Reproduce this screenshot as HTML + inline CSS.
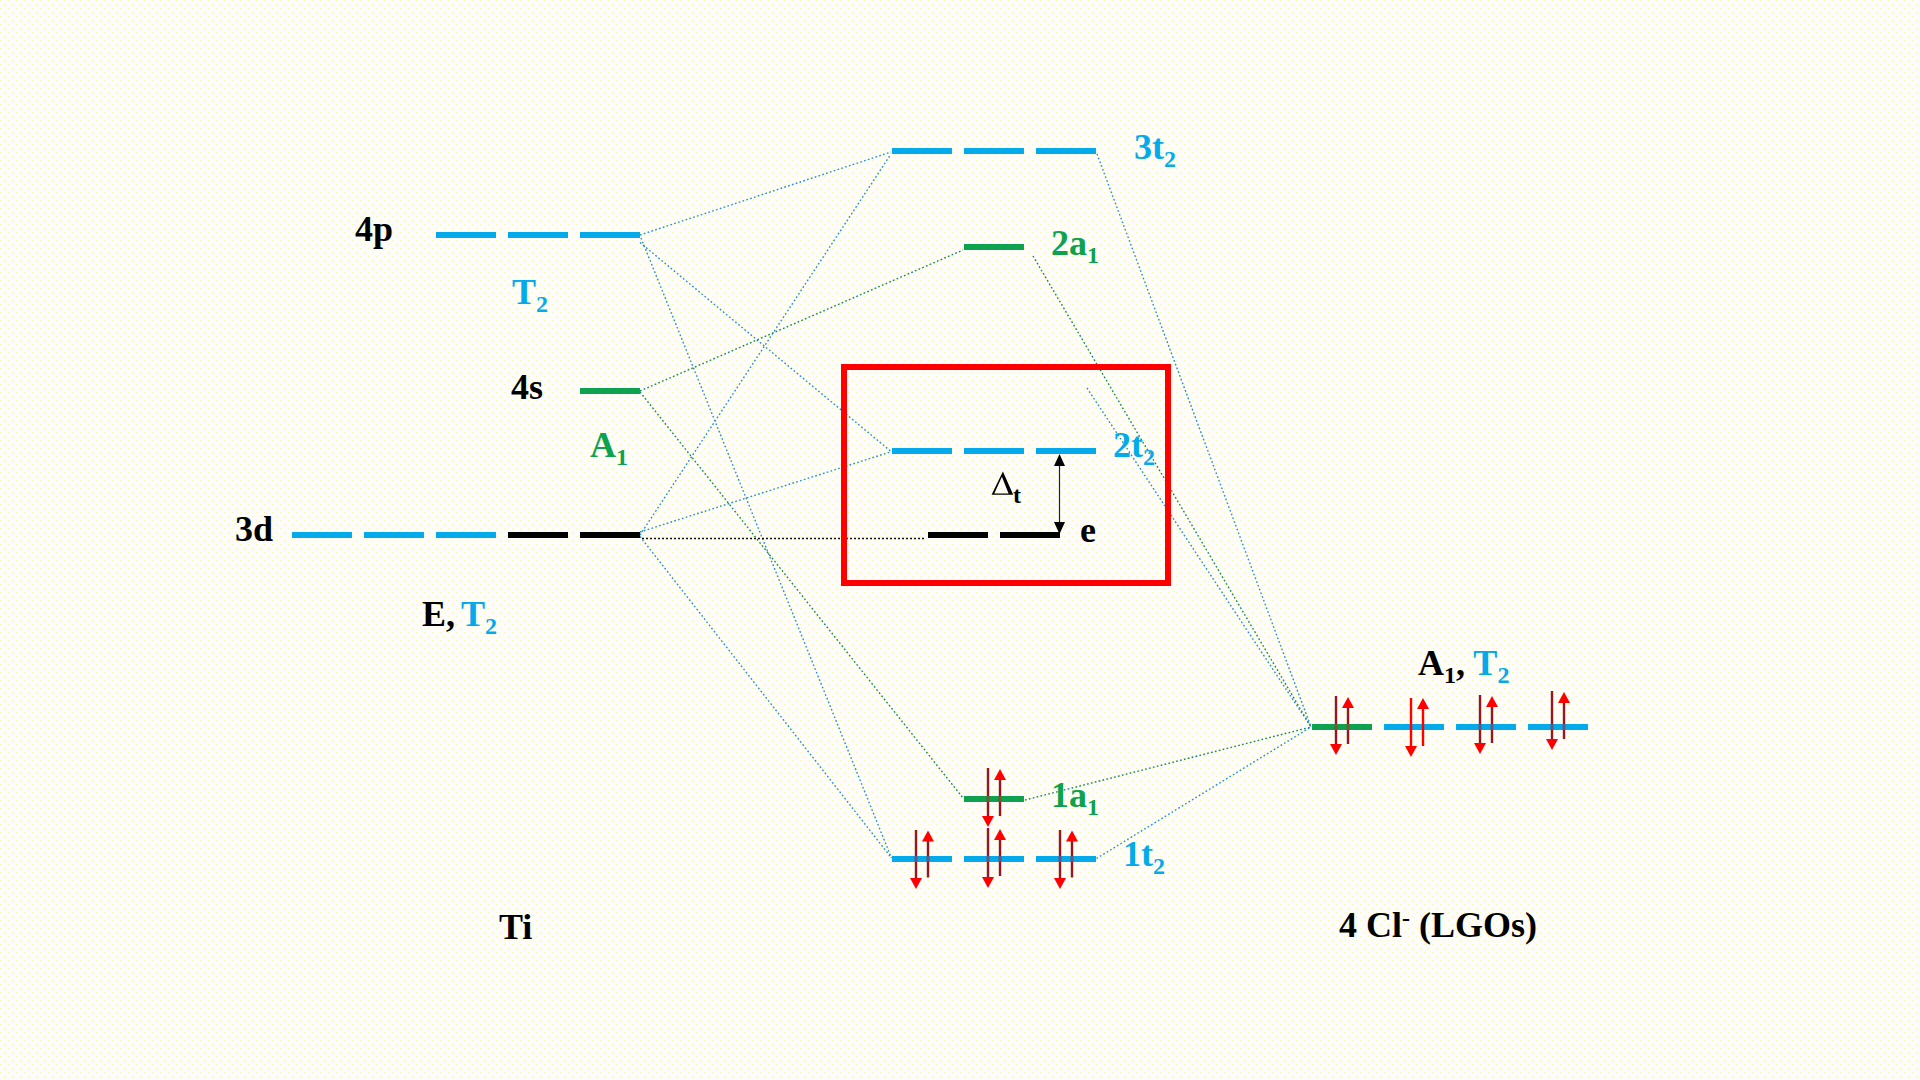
<!DOCTYPE html>
<html><head><meta charset="utf-8"><title>MO diagram TiCl4</title>
<style>
html,body{margin:0;padding:0;width:1920px;height:1080px;overflow:hidden;background:#fcfcfe;}
svg{display:block;font-family:"Liberation Serif",serif;}
</style></head><body>
<svg width="1920" height="1080" viewBox="0 0 1920 1080">
<defs><pattern id="bg" width="8" height="8" patternUnits="userSpaceOnUse">
<rect width="8" height="8" fill="#fcfcfe"/><rect x="0" y="0" width="1" height="1" fill="#fbfba6"/><rect x="4" y="4" width="1" height="1" fill="#fbfba6"/></pattern></defs>
<rect width="1920" height="1080" fill="url(#bg)"/>
<line x1="640" y1="235" x2="891" y2="152" stroke="#2a90c0" stroke-width="1.4" stroke-dasharray="1.7 2.3"/>
<line x1="640" y1="242.5" x2="891.25" y2="451.7" stroke="#2a90c0" stroke-width="1.4" stroke-dasharray="1.7 2.3"/>
<line x1="641" y1="238" x2="891.5" y2="858" stroke="#2a90c0" stroke-width="1.4" stroke-dasharray="1.7 2.3"/>
<line x1="640" y1="535" x2="891" y2="154" stroke="#2a90c0" stroke-width="1.4" stroke-dasharray="1.7 2.3"/>
<line x1="640" y1="532" x2="891.25" y2="451.7" stroke="#2a90c0" stroke-width="1.4" stroke-dasharray="1.7 2.3"/>
<line x1="640" y1="536.5" x2="891.5" y2="858" stroke="#2a90c0" stroke-width="1.4" stroke-dasharray="1.7 2.3"/>
<line x1="642" y1="538.5" x2="926" y2="538.5" stroke="#101010" stroke-width="1.5" stroke-dasharray="2 2"/>
<line x1="640" y1="391" x2="963" y2="250" stroke="#1a8a50" stroke-width="1.4" stroke-dasharray="1.7 2.3"/>
<line x1="640" y1="392" x2="963" y2="798" stroke="#1a8a50" stroke-width="1.4" stroke-dasharray="1.7 2.3"/>
<line x1="1097" y1="154" x2="1311" y2="727" stroke="#2a90c0" stroke-width="1.4" stroke-dasharray="1.7 2.3"/>
<line x1="1033" y1="256" x2="1311" y2="727" stroke="#1a8a50" stroke-width="1.4" stroke-dasharray="1.7 2.3"/>
<line x1="1087" y1="388" x2="1311" y2="727" stroke="#2a90c0" stroke-width="1.4" stroke-dasharray="1.7 2.3"/>
<line x1="1025" y1="800" x2="1311" y2="727" stroke="#1a8a50" stroke-width="1.4" stroke-dasharray="1.7 2.3"/>
<line x1="1096.5" y1="858.5" x2="1311" y2="727" stroke="#2a90c0" stroke-width="1.4" stroke-dasharray="1.7 2.3"/>
<rect x="436" y="232" width="60" height="6" fill="#04aaea"/>
<rect x="508" y="232" width="60" height="6" fill="#04aaea"/>
<rect x="580" y="232" width="60" height="6" fill="#04aaea"/>
<rect x="580" y="388" width="60" height="6" fill="#0ea24e"/>
<rect x="292" y="532" width="60" height="6" fill="#04aaea"/>
<rect x="364" y="532" width="60" height="6" fill="#04aaea"/>
<rect x="436" y="532" width="60" height="6" fill="#04aaea"/>
<rect x="508" y="532" width="60" height="6" fill="#000"/>
<rect x="580" y="532" width="60" height="6" fill="#000"/>
<rect x="892" y="148" width="60" height="6" fill="#04aaea"/>
<rect x="964" y="148" width="60" height="6" fill="#04aaea"/>
<rect x="1036" y="148" width="60" height="6" fill="#04aaea"/>
<rect x="964" y="244" width="60" height="6" fill="#0ea24e"/>
<rect x="892" y="448" width="60" height="6" fill="#04aaea"/>
<rect x="964" y="448" width="60" height="6" fill="#04aaea"/>
<rect x="1036" y="448" width="60" height="6" fill="#04aaea"/>
<rect x="928" y="532" width="60" height="6" fill="#000"/>
<rect x="1000" y="532" width="60" height="6" fill="#000"/>
<rect x="964" y="796" width="60" height="6" fill="#0ea24e"/>
<rect x="892" y="856" width="60" height="6" fill="#04aaea"/>
<rect x="964" y="856" width="60" height="6" fill="#04aaea"/>
<rect x="1036" y="856" width="60" height="6" fill="#04aaea"/>
<rect x="1312" y="724" width="60" height="6" fill="#0ea24e"/>
<rect x="1384" y="724" width="60" height="6" fill="#04aaea"/>
<rect x="1456" y="724" width="60" height="6" fill="#04aaea"/>
<rect x="1528" y="724" width="60" height="6" fill="#04aaea"/>
<rect x="844" y="367" width="324" height="216" fill="none" stroke="#ff0000" stroke-width="6"/>
<line x1="1059.5" y1="464" x2="1059.5" y2="524" stroke="#222" stroke-width="1.2"/>
<polygon points="1054,466 1065,466 1059.5,454" fill="#000"/>
<polygon points="1054,522 1065,522 1059.5,534" fill="#000"/>
<line x1="988" y1="768" x2="988" y2="817" stroke="#981818" stroke-width="2.4"/>
<polygon points="982,816 994,816 988,827" fill="#ff0000"/>
<line x1="1000" y1="779" x2="1000" y2="816" stroke="#981818" stroke-width="2.4"/>
<polygon points="994,780 1006,780 1000,769" fill="#ff0000"/>
<rect x="986.8" y="796" width="2.4" height="6" fill="#7a5a34"/>
<rect x="998.8" y="796" width="2.4" height="6" fill="#7a5a34"/>
<line x1="916" y1="830" x2="916" y2="879" stroke="#981818" stroke-width="2.4"/>
<polygon points="910,878 922,878 916,889" fill="#ff0000"/>
<line x1="928" y1="840.5" x2="928" y2="877.5" stroke="#981818" stroke-width="2.4"/>
<polygon points="922,841.5 934,841.5 928,830.5" fill="#ff0000"/>
<rect x="914.8" y="856" width="2.4" height="6" fill="#6c5480"/>
<rect x="926.8" y="856" width="2.4" height="6" fill="#6c5480"/>
<line x1="988" y1="828" x2="988" y2="878" stroke="#981818" stroke-width="2.4"/>
<polygon points="982,877 994,877 988,888" fill="#ff0000"/>
<line x1="1000" y1="839" x2="1000" y2="876" stroke="#981818" stroke-width="2.4"/>
<polygon points="994,840 1006,840 1000,829" fill="#ff0000"/>
<rect x="986.8" y="856" width="2.4" height="6" fill="#6c5480"/>
<rect x="998.8" y="856" width="2.4" height="6" fill="#6c5480"/>
<line x1="1060" y1="830" x2="1060" y2="879" stroke="#981818" stroke-width="2.4"/>
<polygon points="1054,878 1066,878 1060,889" fill="#ff0000"/>
<line x1="1072" y1="840.5" x2="1072" y2="877.5" stroke="#981818" stroke-width="2.4"/>
<polygon points="1066,841.5 1078,841.5 1072,830.5" fill="#ff0000"/>
<rect x="1058.8" y="856" width="2.4" height="6" fill="#6c5480"/>
<rect x="1070.8" y="856" width="2.4" height="6" fill="#6c5480"/>
<line x1="1336" y1="696" x2="1336" y2="745" stroke="#981818" stroke-width="2.4"/>
<polygon points="1330,744 1342,744 1336,755" fill="#ff0000"/>
<line x1="1348" y1="707" x2="1348" y2="744" stroke="#981818" stroke-width="2.4"/>
<polygon points="1342,708 1354,708 1348,697" fill="#ff0000"/>
<rect x="1334.8" y="724" width="2.4" height="6" fill="#7a5a34"/>
<rect x="1346.8" y="724" width="2.4" height="6" fill="#7a5a34"/>
<line x1="1411" y1="698" x2="1411" y2="747" stroke="#ff0000" stroke-width="2.4"/>
<polygon points="1405,746 1417,746 1411,757" fill="#ff0000"/>
<line x1="1423" y1="708" x2="1423" y2="746" stroke="#ff0000" stroke-width="2.4"/>
<polygon points="1417,709 1429,709 1423,698" fill="#ff0000"/>
<line x1="1480" y1="695" x2="1480" y2="744" stroke="#981818" stroke-width="2.4"/>
<polygon points="1474,743 1486,743 1480,754" fill="#ff0000"/>
<line x1="1492" y1="706" x2="1492" y2="743" stroke="#981818" stroke-width="2.4"/>
<polygon points="1486,707 1498,707 1492,696" fill="#ff0000"/>
<rect x="1478.8" y="724" width="2.4" height="6" fill="#6c5480"/>
<rect x="1490.8" y="724" width="2.4" height="6" fill="#6c5480"/>
<line x1="1552" y1="691" x2="1552" y2="740" stroke="#981818" stroke-width="2.4"/>
<polygon points="1546,739 1558,739 1552,750" fill="#ff0000"/>
<line x1="1564" y1="702" x2="1564" y2="739" stroke="#981818" stroke-width="2.4"/>
<polygon points="1558,703 1570,703 1564,692" fill="#ff0000"/>
<rect x="1550.8" y="724" width="2.4" height="6" fill="#6c5480"/>
<rect x="1562.8" y="724" width="2.4" height="6" fill="#6c5480"/>
<text x="355" y="241" font-size="36" font-weight="bold" fill="#000">4p</text>
<text x="512" y="304" font-size="36" font-weight="bold" fill="#04aaea">T<tspan font-size="24" dy="8" fill="#04aaea">2</tspan></text>
<text x="511" y="399" font-size="36" font-weight="bold" fill="#000">4s</text>
<text x="590" y="457" font-size="36" font-weight="bold" fill="#0ea24e">A<tspan font-size="24" dy="8" fill="#0ea24e">1</tspan></text>
<text x="235" y="541" font-size="36" font-weight="bold" fill="#000">3d</text>
<text x="422" y="626" font-size="36" font-weight="bold">E,</text>
<text x="461" y="626" font-size="36" font-weight="bold" fill="#04aaea">T<tspan font-size="24" dy="8" fill="#04aaea">2</tspan></text>
<text x="1134" y="159" font-size="36" font-weight="bold" fill="#04aaea">3t<tspan font-size="24" dy="8" fill="#04aaea">2</tspan></text>
<text x="1051" y="255" font-size="36" font-weight="bold" fill="#0ea24e">2a<tspan font-size="24" dy="8" fill="#0ea24e">1</tspan></text>
<text x="1113" y="457" font-size="36" font-weight="bold" fill="#04aaea">2t<tspan font-size="24" dy="8" fill="#04aaea">2</tspan></text>
<path d="M991.6,494.7 L1002.9,471.4 L1013.2,494.7 Z M994.3,493.6 L1008.6,493.6 L1001.9,476.7 Z" fill="#000" fill-rule="evenodd"/>
<text x="1013" y="502.7" font-size="24" font-weight="bold">t</text>
<text x="1080" y="542" font-size="36" font-weight="bold" fill="#000">e</text>
<text x="1051" y="807" font-size="36" font-weight="bold" fill="#0ea24e">1a<tspan font-size="24" dy="8" fill="#0ea24e">1</tspan></text>
<text x="1123" y="866" font-size="36" font-weight="bold" fill="#04aaea">1t<tspan font-size="24" dy="8" fill="#04aaea">2</tspan></text>
<text x="1418" y="675" font-size="36" font-weight="bold">A<tspan font-size="24" dy="8">1</tspan><tspan dy="-8">, </tspan><tspan fill="#04aaea">T</tspan><tspan font-size="24" dy="8" fill="#04aaea">2</tspan></text>
<text x="499" y="939" font-size="36" font-weight="bold" fill="#000">Ti</text>
<text x="1339" y="937" font-size="36" font-weight="bold">4 Cl<tspan font-size="24" dy="-11">-</tspan><tspan dy="11"> (LGOs)</tspan></text>
</svg>
</body></html>
